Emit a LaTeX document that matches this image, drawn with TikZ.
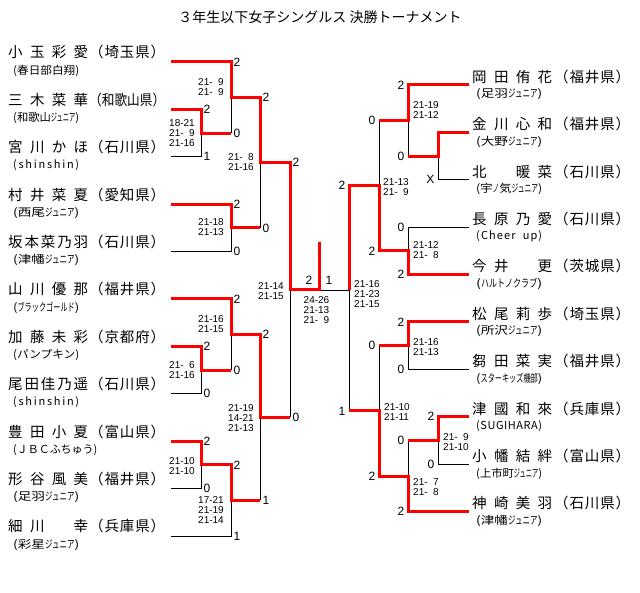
\documentclass[tikz,border=0pt]{standalone}
\usepackage{fontspec}
\usepackage{graphicx}
\setmainfont{Liberation Sans}
\newfontfamily\jp{Noto Sans CJK JP}
\newcommand\pz{\phantom{0}}
\newcommand\nmf{\jp\fontsize{14.5}{15}\selectfont}
\newcommand\afff{\jp\fontsize{11}{11}\selectfont}
\newcommand\nmx[1]{\makebox[80pt][s]{\nmf #1}}
\newcommand\pfx[3]{\makebox[76pt][s]{\nmf （\hfill #1\hfill #2\hfill #3\hfill ）}}
\newcommand\pfr[1]{\resizebox{76pt}{\height}{\nmf （#1）}}
\newcommand\afx[1]{\resizebox{66pt}{\height}{\afff #1}}
\newcommand\afs[1]{\makebox[66pt][s]{\afff #1}}
\newcommand\hk[1]{\scalebox{0.55}[1]{#1}}
\begin{document}
\begin{tikzpicture}[x=1pt,y=-1pt,
  win/.style={draw=red,line width=3pt},
  los/.style={draw=black,line width=0.9pt},
  res/.style={font=\fontsize{12}{12}\selectfont,inner sep=0pt},
  scl/.style={font=\fontsize{10}{10}\selectfont,inner sep=0pt,align=right,anchor=east},
  scr/.style={font=\fontsize{10}{10}\selectfont,inner sep=0pt,align=left,anchor=west},
  txt/.style={inner sep=0pt,anchor=west}]
\fill[white] (0,0) rectangle (640,593);
\useasboundingbox (0,0) rectangle (640,593);
% title
\node[inner sep=0pt,font=\jp\fontsize{14}{14}\selectfont] (title) at (320,17) {３年生以下女子シングルス 決勝トーナメント};
% ---------------- left coordinates
\coordinate (p0s) at (171,62);
\coordinate (p1s) at (171,109.4);
\coordinate (p2s) at (171,156.8);
\coordinate (p3s) at (171,204.2);
\coordinate (p4s) at (171,251.6);
\coordinate (p5s) at (171,299);
\coordinate (p6s) at (171,346.4);
\coordinate (p7s) at (171,393.8);
\coordinate (p8s) at (171,441.2);
\coordinate (p9s) at (171,488.6);
\coordinate (p10s) at (171,536);
\coordinate (mA) at (201,133.1);
\coordinate (mB) at (231,97.55);
\coordinate (mC) at (231,227.9);
\coordinate (mD) at (260,162.7);
\coordinate (mE) at (201,370.1);
\coordinate (mF) at (231,334.55);
\coordinate (mG) at (201,464.9);
\coordinate (mH) at (231,500.45);
\coordinate (mI) at (260,417.5);
\coordinate (mJ) at (290,290);
\coordinate (fc) at (319,290);
\coordinate (champ) at (319,242);
% ---------------- right coordinates
\coordinate (q0s) at (469,85);
\coordinate (q1s) at (469,132.4);
\coordinate (q2s) at (469,179.8);
\coordinate (q3s) at (469,227.2);
\coordinate (q4s) at (469,274.6);
\coordinate (q5s) at (469,322);
\coordinate (q6s) at (469,369.4);
\coordinate (q7s) at (469,416.8);
\coordinate (q8s) at (469,464.2);
\coordinate (q9s) at (469,511.6);
\coordinate (ra) at (438,156.1);
\coordinate (rb) at (408,120.55);
\coordinate (rc) at (408,250.9);
\coordinate (rK) at (379,185.7);
\coordinate (rd) at (408,345.7);
\coordinate (re) at (438,440.5);
\coordinate (rf) at (408,476.05);
\coordinate (rL) at (379,410.9);
\coordinate (rS) at (349,290);
% ---------------- black (losers)
\draw[los] (p2s) -| (mA);
\draw[los] (p4s) -| (mC);
\draw[los] (p7s) -| (mE);
\draw[los] (p9s) -| (mG);
\draw[los] (p10s) -| (mH);
\draw[los] (mA -| mB) -- (mB);
\draw[los] (mC -| mD) -- (mD);
\draw[los] (mE -| mF) -- (mF);
\draw[los] (mH -| mI) -- (mI);
\draw[los] (mI -| mJ) -- (mJ);
\draw[los] (fc) -- (rS);
\draw[los] (q2s) -| (ra);
\draw[los] (q3s) -| (rc);
\draw[los] (q6s) -| (rd);
\draw[los] (q8s) -| (re);
\draw[los] (ra -| rb) -- (rb);
\draw[los] (rb -| rK) -- (rK);
\draw[los] (rd -| rL) -- (rL);
\draw[los] (re -| rf) -- (rf);
\draw[los] (rL -| rS) -- (rS);
% ---------------- red (winners)
\draw[win] (p0s) -| (mB) -- (mB -| mD) -- (mD) -- (mD -| mJ) -- (mJ) -- (fc) -- (champ);
\draw[win] (p1s) -| (mA) -- (mA -| mB);
\draw[win] (p3s) -| (mC) -- (mC -| mD);
\draw[win] (p5s) -| (mF) -- (mF -| mI) -- (mI) -- (mI -| mJ);
\draw[win] (p6s) -| (mE) -- (mE -| mF);
\draw[win] (p8s) -| (mG) -- (mG -| mH) -- (mH) -- (mH -| mI);
\draw[win] (q0s) -| (rb) -- (rb -| rK);
\draw[win] (q1s) -| (ra) -- (ra -| rb);
\draw[win] (q4s) -| (rc) -- (rc -| rK) -- (rK) -- (rK -| rS) -- (rS);
\draw[win] (q5s) -| (rd) -- (rd -| rL);
\draw[win] (q7s) -| (re) -- (re -| rf);
\draw[win] (q9s) -| (rf) -- (rf -| rL) -- (rL) -- (rL -| rS);
% ---------------- left players
\node[txt] (n0) at (8,52.4) {\nmx{小\hfill 玉\hfill 彩\hfill 愛}};
\node[txt] (f0) at (89,52.4) {\pfx{埼}{玉}{県}};
\node[txt] (a0) at (13,70.6) {\afx{(春日部白翔)}};
\node[txt] (n1) at (8,99.8) {\nmx{三\hfill 木\hfill 菜\hfill 華}};
\node[txt] (f1) at (89,99.8) {\pfr{和歌山県}};
\node[txt] (a1) at (13,118) {\afx{(和歌山\hk{ジュニア})}};
\node[txt] (n2) at (8,147.2) {\nmx{宮\hfill 川\hfill か\hfill ほ}};
\node[txt] (f2) at (89,147.2) {\pfx{石}{川}{県}};
\node[txt] (a2) at (13,165.4) {\afs{(\hfill s\hfill h\hfill i\hfill n\hfill s\hfill h\hfill i\hfill n\hfill )}};
\node[txt] (n3) at (8,194.6) {\nmx{村\hfill 井\hfill 菜\hfill 夏}};
\node[txt] (f3) at (89,194.6) {\pfx{愛}{知}{県}};
\node[txt] (a3) at (13,212.8) {\afx{(西尾\hk{ジュニア})}};
\node[txt] (n4) at (8,242) {\nmx{坂\hfill 本\hfill 菜\hfill 乃\hfill 羽}};
\node[txt] (f4) at (89,242) {\pfx{石}{川}{県}};
\node[txt] (a4) at (13,260.2) {\afx{(津幡\hk{ジュニア})}};
\node[txt] (n5) at (8,289.4) {\nmx{山\hfill 川\hfill 優\hfill 那}};
\node[txt] (f5) at (89,289.4) {\pfx{福}{井}{県}};
\node[txt] (a5) at (13,307.6) {\afx{(\hk{ブラックゴールド})}};
\node[txt] (n6) at (8,336.8) {\nmx{加\hfill 藤\hfill 未\hfill 彩}};
\node[txt] (f6) at (89,336.8) {\pfx{京}{都}{府}};
\node[txt] (a6) at (13,355) {\afx{(パンプキン)}};
\node[txt] (n7) at (8,384.2) {\nmx{尾\hfill 田\hfill 佳\hfill 乃\hfill 遥}};
\node[txt] (f7) at (89,384.2) {\pfx{石}{川}{県}};
\node[txt] (a7) at (13,402.4) {\afs{(\hfill s\hfill h\hfill i\hfill n\hfill s\hfill h\hfill i\hfill n\hfill )}};
\node[txt] (n8) at (8,431.6) {\nmx{豊\hfill 田\hfill 小\hfill 夏}};
\node[txt] (f8) at (89,431.6) {\pfx{富}{山}{県}};
\node[txt] (a8) at (13,449.8) {\afs{(\hfill Ｊ\hfill Ｂ\hfill Ｃ\hfill ふちゅう)}};
\node[txt] (n9) at (8,479) {\nmx{形\hfill 谷\hfill 風\hfill 美}};
\node[txt] (f9) at (89,479) {\pfx{福}{井}{県}};
\node[txt] (a9) at (13,497.2) {\afx{(足羽\hk{ジュニア})}};
\node[txt] (n10) at (8,526.4) {\nmx{細\hfill 川\hfill \phantom{口}\hfill 幸}};
\node[txt] (f10) at (89,526.4) {\pfx{兵}{庫}{県}};
\node[txt] (a10) at (13,544.6) {\afx{(彩星\hk{ジュニア})}};
% ---------------- right players
\node[txt] (m0) at (472,76.8) {\nmx{岡\hfill 田\hfill 侑\hfill 花}};
\node[txt] (g0) at (554,76.8) {\pfx{福}{井}{県}};
\node[txt] (b0) at (476,94.4) {\afx{(足羽\hk{ジュニア})}};
\node[txt] (m1) at (472,124.2) {\nmx{金\hfill 川\hfill 心\hfill 和}};
\node[txt] (g1) at (554,124.2) {\pfx{福}{井}{県}};
\node[txt] (b1) at (476,141.8) {\afx{(大野\hk{ジュニア})}};
\node[txt] (m2) at (472,171.6) {\nmx{北\hfill \phantom{口}\hfill 暖\hfill 菜}};
\node[txt] (g2) at (554,171.6) {\pfx{石}{川}{県}};
\node[txt] (b2) at (476,189.2) {\afx{(宇\hk{ノ}気\hk{ジュニア})}};
\node[txt] (m3) at (472,219) {\nmx{長\hfill 原\hfill 乃\hfill 愛}};
\node[txt] (g3) at (554,219) {\pfx{石}{川}{県}};
\node[txt] (b3) at (476,236.6) {\afs{(\hfill C\hfill h\hfill e\hfill e\hfill r\hfill\hspace{5pt}\hfill u\hfill p\hfill )}};
\node[txt] (m4) at (472,266.4) {\nmx{今\hfill 井\hfill \phantom{口}\hfill 更}};
\node[txt] (g4) at (554,266.4) {\pfx{茨}{城}{県}};
\node[txt] (b4) at (476,284) {\afx{(\hk{ハルトノクラブ})}};
\node[txt] (m5) at (472,313.8) {\nmx{松\hfill 尾\hfill 莉\hfill 歩}};
\node[txt] (g5) at (554,313.8) {\pfx{埼}{玉}{県}};
\node[txt] (b5) at (476,331.4) {\afx{(所沢\hk{ジュニア})}};
\node[txt] (m6) at (472,361.2) {\nmx{芻\hfill 田\hfill 菜\hfill 実}};
\node[txt] (g6) at (554,361.2) {\pfx{福}{井}{県}};
\node[txt] (b6) at (476,378.8) {\afx{(\hk{スターキッズ}\hk{機部})}};
\node[txt] (m7) at (472,408.6) {\nmx{津\hfill 國\hfill 和\hfill 來}};
\node[txt] (g7) at (554,408.6) {\pfx{兵}{庫}{県}};
\node[txt] (b7) at (476,426.2) {\afs{(\hfill S\hfill U\hfill G\hfill I\hfill H\hfill A\hfill R\hfill A\hfill )}};
\node[txt] (m8) at (472,456) {\nmx{小\hfill 幡\hfill 結\hfill 絆}};
\node[txt] (g8) at (554,456) {\pfx{富}{山}{県}};
\node[txt] (b8) at (476,473.6) {\afx{(上市町\hk{ジュニア})}};
\node[txt] (m9) at (472,503.4) {\nmx{神\hfill 崎\hfill 美\hfill 羽}};
\node[txt] (g9) at (554,503.4) {\pfx{石}{川}{県}};
\node[txt] (b9) at (476,521) {\afx{(津幡\hk{ジュニア})}};
% ---------------- left results
\node[res,anchor=west] (r1) at (233.5,62) {2};
\node[res,anchor=west] (r2) at (203.5,109.4) {2};
\node[res,anchor=west] (r3) at (203.5,156.8) {1};
\node[res,anchor=west] (r4) at (233.5,133.1) {0};
\node[res,anchor=west] (r5) at (262.5,97.55) {2};
\node[res,anchor=west] (r6) at (233.5,204.2) {2};
\node[res,anchor=west] (r7) at (233.5,251.6) {0};
\node[res,anchor=west] (r8) at (262.5,227.9) {0};
\node[res,anchor=west] (r9) at (292.5,162.7) {2};
\node[res,anchor=west] (r10) at (233.5,299) {2};
\node[res,anchor=west] (r11) at (203.5,346.4) {2};
\node[res,anchor=west] (r12) at (203.5,393.8) {0};
\node[res,anchor=west] (r13) at (233.5,370.1) {0};
\node[res,anchor=west] (r14) at (262.5,334.55) {2};
\node[res,anchor=west] (r15) at (203.5,441.2) {2};
\node[res,anchor=west] (r16) at (203.5,488.6) {0};
\node[res,anchor=west] (r17) at (233.5,464.9) {2};
\node[res,anchor=west] (r18) at (233.5,536) {1};
\node[res,anchor=west] (r19) at (262.5,500.45) {1};
\node[res,anchor=west] (r20) at (292.5,417.5) {0};
\node[res] (r21) at (309,280) {2};
\node[res] (r22) at (329,280) {1};
% ---------------- right results
\node[res,anchor=east] (s1) at (404.5,85) {2};
\node[res,anchor=east] (s2) at (434.5,179.8) {X};
\node[res,anchor=east] (s3) at (404.5,156.1) {0};
\node[res,anchor=east] (s4) at (375.5,120.55) {0};
\node[res,anchor=east] (s5) at (404.5,227.2) {0};
\node[res,anchor=east] (s6) at (404.5,274.6) {2};
\node[res,anchor=east] (s7) at (375.5,250.9) {2};
\node[res,anchor=east] (s8) at (345.5,185.7) {2};
\node[res,anchor=east] (s9) at (404.5,322) {2};
\node[res,anchor=east] (s10) at (404.5,369.4) {0};
\node[res,anchor=east] (s11) at (375.5,345.7) {0};
\node[res,anchor=east] (s12) at (434.5,416.8) {2};
\node[res,anchor=east] (s13) at (434.5,464.2) {0};
\node[res,anchor=east] (s14) at (404.5,440.5) {0};
\node[res,anchor=east] (s15) at (404.5,511.6) {2};
\node[res,anchor=east] (s16) at (375.5,476.05) {2};
\node[res,anchor=east] (s17) at (345.5,410.9) {1};
% ---------------- left scores
\node[scl] (cA) at (195,133) {18-21\\21-\pz9\\21-16};
\node[scl] (cB) at (224,87) {21-\pz9\\21-\pz9};
\node[scl] (cC) at (224,227.5) {21-18\\21-13};
\node[scl] (cD) at (254,162.5) {21-\pz8\\21-16};
\node[scl] (cE) at (195,370) {21-\pz6\\21-16};
\node[scl] (cF) at (224,324) {21-16\\21-15};
\node[scl] (cG) at (195,466) {21-10\\21-10};
\node[scl] (cH) at (224,510) {17-21\\21-19\\21-14};
\node[scl] (cI) at (254,418) {21-19\\14-21\\21-13};
\node[scl] (cJ) at (284,291) {21-14\\21-15};
\node[scl,anchor=center] (cFin) at (316.5,310) {24-26\\21-13\\21-\pz9};
% ---------------- right scores
\node[scr] (cb) at (413,110.5) {21-19\\21-12};
\node[scr] (cK) at (383,187) {21-13\\21-\pz9};
\node[scr] (cc) at (413,250.5) {21-12\\21-\pz8};
\node[scr] (cS) at (354,294.5) {21-16\\21-23\\21-15};
\node[scr] (cd) at (413,347) {21-16\\21-13};
\node[scr] (cL) at (384,412) {21-10\\21-11};
\node[scr] (ce) at (443,442) {21-\pz9\\21-10};
\node[scr] (cf) at (413,487) {21-\pz7\\21-\pz8};
\end{tikzpicture}
\end{document}
